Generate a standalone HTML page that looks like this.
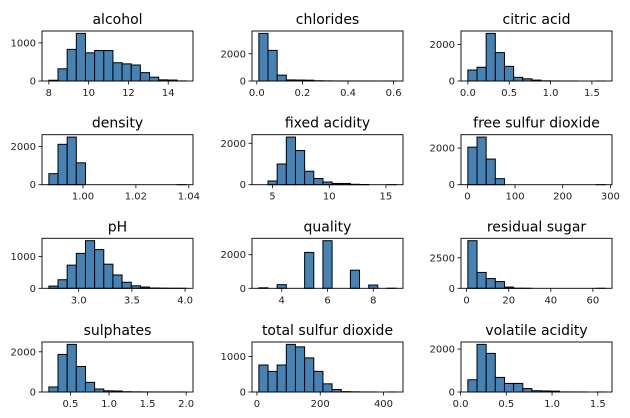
<!DOCTYPE html>
<html><head><meta charset="utf-8">
<style>
body{margin:0;background:#fff;}
svg{display:block;font-family:"DejaVu Sans","Liberation Sans",sans-serif;}
</style></head>
<body>
<svg id="chart" width="630" height="418" viewBox="0 0 630 418"></svg>
<script>
const titles = ["alcohol","chlorides","citric acid","density","fixed acidity","free sulfur dioxide","pH","quality","residual sugar","sulphates","total sulfur dioxide","volatile acidity"];
const dataMin = [8.0,0.009,0.0,0.98711,3.8,1,2.72,3,0.6,0.22,6,0.08];
const dataMax = [14.9,0.611,1.66,1.03898,15.9,289,4.01,9,65.8,2.0,440,1.58];
const counts = [
 [20,320,830,1250,740,800,800,480,450,420,220,100,30,25,3],
 [3500,2250,430,80,70,60,20,10,5,3,2,2,1,1,1],
 [600,750,2600,1550,800,200,120,50,10,3,1,1,0,0,1],
 [580,2120,2500,1150,0,0,0,0,0,0,0,0,0,0,1],
 [0,180,1000,2300,1650,650,300,130,60,60,20,10,0,0,1],
 [2050,2600,1400,330,0,0,0,0,0,0,0,0,0,0,1],
 [70,270,730,1100,1500,1220,760,420,190,80,40,10,5,2,1],
 [30,0,216,0,0,2138,0,2836,0,0,1079,0,193,0,5],
 [3900,1300,800,550,100,10,2,0,0,0,0,0,0,0,1],
 [250,1870,2370,1270,480,150,60,50,15,8,5,3,2,1,2],
 [760,580,760,1340,1270,960,580,230,70,10,5,2,1,0,1],
 [570,2220,1800,680,400,400,160,60,50,40,5,3,2,0,1]
];
const xTicks = [[8,10,12,14],[0,0.2,0.4,0.6],[0,0.5,1.0,1.5],[1.00,1.02,1.04],[5,10,15],[0,100,200,300],[3.0,3.5,4.0],[4,6,8],[0,20,40,60],[0.5,1.0,1.5,2.0],[0,200,400],[0,0.5,1.0,1.5]];
const xTickLabels = [["8","10","12","14"],["0.0","0.2","0.4","0.6"],["0.0","0.5","1.0","1.5"],["1.00","1.02","1.04"],["5","10","15"],["0","100","200","300"],["3.0","3.5","4.0"],["4","6","8"],["0","20","40","60"],["0.5","1.0","1.5","2.0"],["0","200","400"],["0.0","0.5","1.0","1.5"]];
const yTicks = [[0,1000],[0,2000],[0,2000],[0,2000],[0,2000],[0,2000],[0,1000],[0,2000],[0,2500],[0,2000],[0,1000],[0,2000]];

const svg = document.getElementById('chart');
const NS = 'http://www.w3.org/2000/svg';
const colX = [42, 252, 461];
const rowY = [31, 134.7, 238.3, 342];
const W = 151, H = 50;
function mk(tag, attrs, parent){const e=document.createElementNS(NS,tag);for(const k in attrs)e.setAttribute(k,attrs[k]);parent.appendChild(e);return e;}

titles.forEach((t,i)=>{
  const x0 = colX[i%3], y0 = rowY[Math.floor(i/3)];
  const g = mk('g',{},svg);
  
  
  const mn=dataMin[i], mx=dataMax[i], r=mx-mn;
  const lo=mn-0.05*r, hi=mx+0.05*r;
  const sx=v=>x0+(v-lo)/(hi-lo)*W;
  const c=counts[i];
  const ymax=Math.max(...c)*1.05;
  const sy=v=>y0+H-v/ymax*H;
  const bw=r/c.length;
  c.forEach((v,j)=>{
    if(v<=0) return;
    const a=sx(mn+j*bw), b=sx(mn+(j+1)*bw);
    const rect=mk('rect',{x:a,y:sy(v),width:b-a,height:sy(0)-sy(v),fill:'#4682b4',stroke:'#000','stroke-width':1},g);
    
    
  });
  const frame=mk('rect',{x:x0,y:y0,width:W,height:H,fill:'none',stroke:'#000','stroke-width':0.9},g);
  
  
  const title=mk('text',{x:x0+W/2,y:y0-7,'text-anchor':'middle','font-size':14,fill:'#000'},g);
  title.textContent=t;
  
  
  xTicks[i].forEach((v,k)=>{
    const x=sx(v);
    mk('line',{x1:x,x2:x,y1:y0+H,y2:y0+H+3.5,stroke:'#000','stroke-width':0.8},g);
    const tx=mk('text',{x:x,y:y0+H+15,'text-anchor':'middle','font-size':10,fill:'#222'},g);
    tx.textContent=xTickLabels[i][k];
    
    
  });
  yTicks[i].forEach(v=>{
    const y=sy(v);
    mk('line',{x1:x0-3.5,x2:x0,y1:y,y2:y,stroke:'#000','stroke-width':0.8},g);
    const ty=mk('text',{x:x0-6,y:y+3.5,'text-anchor':'end','font-size':10,fill:'#222'},g);
    ty.textContent=String(v);
    
    
  });
});
</script>
</body></html>
